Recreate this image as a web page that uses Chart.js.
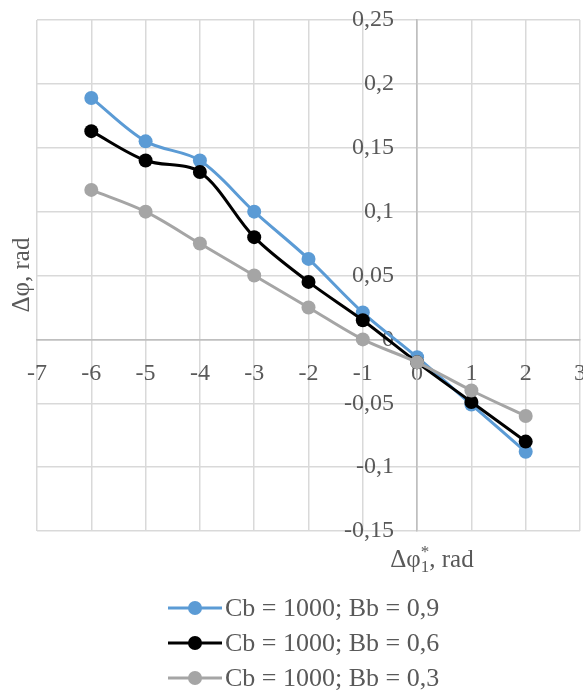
<!DOCTYPE html>
<html>
<head>
<meta charset="utf-8">
<script src="https://cdn.jsdelivr.net/npm/chart.js@4"></script>
<style>
  body { margin: 0; background: #fff; }
  canvas { display: block; }
</style>
</head>
<body>
<canvas id="phaseChart" width="583" height="693"></canvas>
<script>
// x values shared by all three series
const xValues = [-6, -5, -4, -3, -2, -1, 0, 1, 2];

// Δφ, rad for each Bb
const bb09 = [0.189, 0.155, 0.140, 0.100, 0.063, 0.021, -0.014, -0.051, -0.088];
const bb06 = [0.163, 0.140, 0.131, 0.080, 0.045, 0.015, -0.018, -0.049, -0.080];
const bb03 = [0.117, 0.100, 0.075, 0.050, 0.025, 0.000, -0.018, -0.040, -0.060];

const seriesLabels = ['Cb = 1000; Bb = 0,9', 'Cb = 1000; Bb = 0,6', 'Cb = 1000; Bb = 0,3'];
const seriesColors = ['#5b9bd5', '#000000', '#a5a5a5'];

const FONT = '"Liberation Serif", "Times New Roman", serif';
const TEXT = '#595959';

function toPoints(ys) {
    return xValues.map((x, i) => ({ x: x, y: ys[i] }));
}

function makeSet(i, ys) {
    return {
        label: seriesLabels[i],
        data: toPoints(ys),
        showLine: true,
        borderColor: seriesColors[i],
        backgroundColor: seriesColors[i],
        borderWidth: 3,
        pointRadius: 7,
        pointBorderWidth: 0,
        pointHoverRadius: 7,
        tension: 0.33,
        order: 3 - i
    };
}

// comma decimals, like the original
const fmtY = v => String(Math.round(v * 100) / 100).replace('.', ',');

// centered axes should not take any room from the plot
function noRoom(s) {
    s.width = s.isHorizontal() ? s.width : 0;
    s.height = s.isHorizontal() ? 0 : s.height;
    s.paddingTop = 0;
    s.paddingBottom = 0;
    s.paddingLeft = 0;
    s.paddingRight = 0;
}

// y tick labels (chart.js ignores padding for centered y axes),
// axis titles and the stacked legend
const extras = {
    id: 'extras',
    beforeDatasetsDraw(chart) {
        const ctx = chart.ctx;
        const sx = chart.scales.x, sy = chart.scales.y;
        ctx.save();
        ctx.fillStyle = TEXT;
        ctx.font = '24px ' + FONT;
        ctx.textAlign = 'right';
        ctx.textBaseline = 'middle';
        const axisX = sx.getPixelForValue(0);
        sy.ticks.forEach(t => {
            ctx.fillText(fmtY(t.value), axisX - 23, sy.getPixelForValue(t.value));
        });
        ctx.restore();
    },
    afterDraw(chart) {
        const ctx = chart.ctx;
        ctx.save();
        ctx.fillStyle = TEXT;

        // y title
        ctx.save();
        ctx.translate(22, 275);
        ctx.rotate(-Math.PI / 2);
        ctx.font = '25px ' + FONT;
        ctx.textAlign = 'center';
        ctx.textBaseline = 'middle';
        ctx.fillText('Δφ, rad', 0, 0);
        ctx.restore();

        // x title with sub/superscript
        const big = '25px ' + FONT, small = '17px ' + FONT;
        ctx.textBaseline = 'alphabetic';
        ctx.textAlign = 'left';
        ctx.font = big;
        const w1 = ctx.measureText('Δφ').width;
        const w4 = ctx.measureText(', rad').width;
        ctx.font = small;
        const w2 = ctx.measureText('1').width;
        const w3 = ctx.measureText('*').width;
        const total = w1 + Math.max(w2, w3) + w4;
        let x = 432 - total / 2;
        const base = 567;
        ctx.font = big;
        ctx.fillText('Δφ', x, base);
        x += w1;
        ctx.font = small;
        ctx.fillText('1', x, base + 5);
        ctx.fillText('*', x, base - 10);
        x += Math.max(w2, w3);
        ctx.font = big;
        ctx.fillText(', rad', x, base);

        // legend
        const rows = [608, 643, 678];
        ctx.font = '26px ' + FONT;
        ctx.textBaseline = 'middle';
        chart.data.datasets.forEach((ds, i) => {
            const y = rows[i];
            ctx.strokeStyle = ds.borderColor;
            ctx.lineWidth = 3;
            ctx.beginPath();
            ctx.moveTo(168, y);
            ctx.lineTo(222, y);
            ctx.stroke();
            ctx.fillStyle = ds.borderColor;
            ctx.beginPath();
            ctx.arc(195, y, 7, 0, Math.PI * 2);
            ctx.fill();
            ctx.fillStyle = TEXT;
            ctx.fillText(ds.label, 225, y + 1);
        });
        ctx.restore();
    }
};

const gridColor = c => (c.tick && c.tick.value === 0) ? '#bfbfbf' : '#d9d9d9';

new Chart(document.getElementById('phaseChart'), {
    type: 'scatter',
    data: {
        datasets: [makeSet(0, bb09), makeSet(1, bb06), makeSet(2, bb03)]
    },
    options: {
        responsive: false,
        animation: false,
        layout: { autoPadding: false, padding: { left: 37, top: 20, right: 3, bottom: 162 } },
        plugins: {
            legend: { display: false },
            tooltip: { enabled: false }
        },
        scales: {
            x: {
                type: 'linear',
                position: { y: 0 },
                min: -7,
                max: 3,
                afterFit: noRoom,
                ticks: {
                    stepSize: 1,
                    padding: 20,
                    color: TEXT,
                    font: { family: FONT, size: 24 }
                },
                grid: { color: gridColor, lineWidth: 1.5, drawTicks: false },
                border: { color: '#bfbfbf', width: 1.5 }
            },
            y: {
                type: 'linear',
                position: { x: 0 },
                min: -0.15,
                max: 0.25,
                afterFit: noRoom,
                ticks: {
                    stepSize: 0.05,
                    display: false,
                    callback: fmtY
                },
                grid: { color: gridColor, lineWidth: 1.5, drawTicks: false },
                border: { color: '#bfbfbf', width: 1.5 }
            }
        }
    },
    plugins: [extras]
});
</script>
</body>
</html>
